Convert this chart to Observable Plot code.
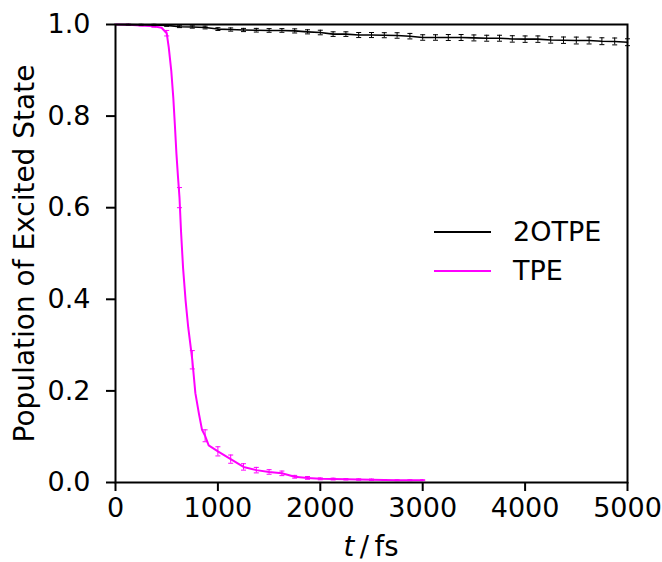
<!DOCTYPE html>
<html><head><meta charset="utf-8">
<script src="https://cdn.jsdelivr.net/npm/d3@7"></script>
<script src="https://cdn.jsdelivr.net/npm/@observablehq/plot@0.6"></script>
<style>
body{margin:0;background:#fff;}
#wrap{position:relative;width:662px;height:562px;font-family:"DejaVu Sans",sans-serif;color:#000;overflow:hidden;}
.lline{position:absolute;height:2px;}
.ltext{position:absolute;font-size:27px;line-height:30px;white-space:nowrap;}
#xlab{position:absolute;font-size:27.5px;line-height:27px;white-space:nowrap;transform:translateX(-50%);}
</style></head><body><div id="wrap"></div>
<script>
// 2OTPE series (time in fs, population, error)
const tOTPE = [0,125,250,375,500,625,750,875,1000,1125,1250,1375,1500,1625,1750,1875,2000,2125,2250,2375,2500,2625,2750,2875,3000,3125,3250,3375,3500,3625,3750,3875,4000,4125,4250,4375,4500,4625,4750,4875,5000];
const pOTPE = [1.000,0.9998,0.9995,0.999,0.998,0.9952,0.9945,0.9934,0.990,0.989,0.988,0.9875,0.987,0.987,0.986,0.984,0.9825,0.979,0.979,0.977,0.977,0.9766,0.976,0.9745,0.9716,0.9716,0.9716,0.9716,0.9707,0.970,0.970,0.9685,0.968,0.968,0.9663,0.9657,0.965,0.965,0.9635,0.963,0.9613];
const eOTPE = [0,0.0005,0.001,0.0015,0.002,0.002,0.0025,0.003,0.003,0.0035,0.0035,0.004,0.004,0.004,0.0045,0.0045,0.005,0.005,0.005,0.0055,0.0055,0.0055,0.006,0.006,0.006,0.006,0.0065,0.0065,0.0065,0.0065,0.0065,0.007,0.007,0.007,0.007,0.007,0.0075,0.0075,0.0075,0.0075,0.0075];
// TPE series (error null where no bar is drawn)
const tTPE = [0,125,250,375,450,500,520,545,565,580,595,610,625,640,660,685,710,750,780,815,845,875,910,1000,1125,1250,1375,1500,1625,1750,1875,2000,2125,2250,2375,2500,2625,2750,2875,3000];
const pTPE = [1.000,0.9995,0.998,0.996,0.993,0.981,0.950,0.898,0.838,0.780,0.718,0.668,0.622,0.548,0.468,0.396,0.339,0.268,0.195,0.150,0.115,0.102,0.081,0.068,0.051,0.034,0.027,0.023,0.020,0.0125,0.010,0.008,0.0075,0.007,0.0065,0.006,0.0055,0.005,0.005,0.005];
const eTPE = [null,0.001,0.001,0.002,null,0.006,null,null,null,null,null,null,0.022,null,null,null,null,0.020,null,null,null,0.013,null,0.010,0.009,0.007,0.006,0.005,0.005,0.003,0.003,0.002,0.002,0.0015,0.0015,0.0015,0.001,0.001,0.001,0.001];
const xTicks = [0,1000,2000,3000,4000,5000];
const yTicks = [0,0.2,0.4,0.6,0.8,1.0];
const names = ["2OTPE","TPE"];
const colors = ["#000000","#ff00ff"];

const otpe = tOTPE.map((t,i)=>({t,p:pOTPE[i],e:eOTPE[i]}));
const tpe = tTPE.map((t,i)=>({t,p:pTPE[i],e:eTPE[i]}));
const otpeBars = otpe.filter(d=>d.e>0);
const tpeBars = tpe.filter(d=>d.e!=null);
const cap = {draw(ctx,size){const w=Math.sqrt(size/Math.PI); ctx.moveTo(-w,0); ctx.lineTo(w,0);}};

function bars(data,color){
  return [
    Plot.ruleX(data,{x:"t",y1:d=>d.p-d.e,y2:d=>d.p+d.e,stroke:color,strokeWidth:1}),
    Plot.dot(data,{x:"t",y:d=>d.p-d.e,symbol:cap,r:2.5,stroke:color,fill:"none",strokeWidth:1}),
    Plot.dot(data,{x:"t",y:d=>d.p+d.e,symbol:cap,r:2.5,stroke:color,fill:"none",strokeWidth:1})
  ];
}

const chart = Plot.plot({
  width:662, height:562,
  marginLeft:115, marginRight:35, marginTop:24, marginBottom:80,
  style:{fontFamily:"DejaVu Sans", fontSize:"27px", background:"white", color:"black", overflow:"visible"},
  x:{domain:[0,5000]},
  y:{domain:[0,1]},
  marks:[
    Plot.line(tpe,{x:"t",y:"p",stroke:colors[1],strokeWidth:2}),
    ...bars(tpeBars,colors[1]),
    Plot.line(otpe,{x:"t",y:"p",stroke:colors[0],strokeWidth:1.6}),
    ...bars(otpeBars,colors[0]),
    Plot.frame({stroke:"black",strokeWidth:2}),
    Plot.axisX({ticks:xTicks,tickFormat:"d",tickSize:9,tickPadding:6,strokeWidth:2,label:null}),
    Plot.axisY({ticks:yTicks,tickFormat:".1f",tickSize:9,tickPadding:16,strokeWidth:2,label:null}),
    Plot.axisY({ticks:[],label:"Population of Excited State",labelAnchor:"center",labelOffset:101,labelArrow:"none",fontSize:28})
  ]
});
const wrap = document.getElementById("wrap");
wrap.appendChild(chart);

// legend
const legY = [232,270.5];
names.forEach((n,i)=>{
  const l=document.createElement("div");
  l.className="lline";
  l.style.left="434px"; l.style.width="57px"; l.style.top=(legY[i]-1)+"px"; l.style.background=colors[i];
  wrap.appendChild(l);
  const t=document.createElement("div");
  t.className="ltext"; t.textContent=n;
  t.style.left="513px"; t.style.top=(legY[i]-15)+"px";
  wrap.appendChild(t);
});
// x label
const xl=document.createElement("div");
xl.id="xlab";
xl.innerHTML='<i>t</i>\u2009/\u2009fs';
xl.style.left="371px"; xl.style.top="533px";
wrap.appendChild(xl);
</script>
</body></html>
